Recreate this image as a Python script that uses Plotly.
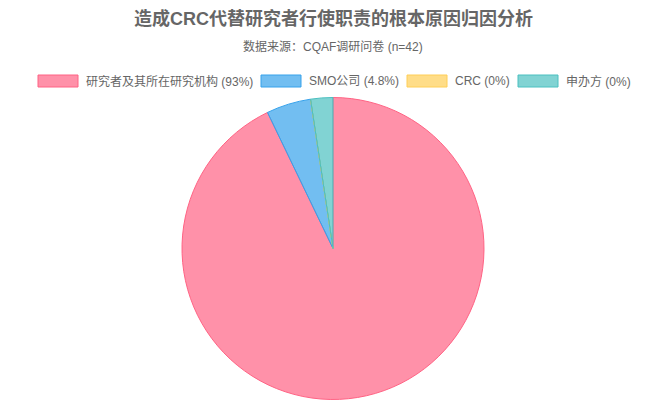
import plotly.graph_objects as go

W, H = 666, 400
labels = ["研究者及其所在研究机构", "SMO公司", "CRC", "申办方"]
values = [39, 2, 0, 1]
legend_texts = ["研究者及其所在研究机构 (93%)", "SMO公司 (4.8%)", "CRC (0%)", "申办方 (0%)"]
fill_colors = ["rgba(255,99,132,0.7)", "rgba(54,162,235,0.7)", "rgba(255,206,86,0.7)", "rgba(75,192,192,0.7)"]
line_colors = ["rgb(255,99,132)", "rgb(54,162,235)", "rgb(255,206,86)", "rgb(75,192,192)"]

FONT = "Liberation Sans, Arial, Noto Sans CJK SC, sans-serif"

cx, cy, r = 333, 248.5, 151

fig = go.Figure(go.Pie(
    labels=labels, values=values, sort=False, direction="clockwise", rotation=0,
    marker=dict(colors=fill_colors, line=dict(color=line_colors, width=1)),
    textinfo="none", hoverinfo="label+value+percent", showlegend=False,
    domain=dict(x=[(cx - r) / W, (cx + r) / W], y=[1 - (cy + r) / H, 1 - (cy - r) / H]),
))

def px(x):
    return x / W

def py(y):
    return 1 - y / H

shapes = []
annotations = [
    dict(text="<b>造成CRC代替研究者行使职责的根本原因归因分析</b>", x=px(333), y=py(19),
         xref="paper", yref="paper", showarrow=False, xanchor="center", yanchor="middle",
         font=dict(size=18, color="#666", family=FONT)),
    dict(text="数据来源：CQAF调研问卷 (n=42)", x=px(333), y=py(47),
         xref="paper", yref="paper", showarrow=False, xanchor="center", yanchor="middle",
         font=dict(size=12, color="#666", family=FONT)),
]
box_x = [38, 261, 407, 518]
for i, t in enumerate(legend_texts):
    x0 = box_x[i]
    shapes.append(dict(type="rect", xref="paper", yref="paper",
                       x0=px(x0), x1=px(x0 + 40), y0=py(87), y1=py(75),
                       fillcolor=fill_colors[i], line=dict(color=line_colors[i], width=1)))
    annotations.append(dict(text=t, x=px(x0 + 46), y=py(81), xref="paper", yref="paper",
                            showarrow=False, xanchor="left", yanchor="middle",
                            font=dict(size=12, color="#666", family=FONT)))

fig.update_layout(
    width=W, height=H, margin=dict(l=0, r=0, t=0, b=0),
    paper_bgcolor="white", plot_bgcolor="white",
    shapes=shapes, annotations=annotations, showlegend=False,
)
fig.write_html("out.html", config={"displayModeBar": False})

with open("out.html", "r", encoding="utf-8") as f:
    html = f.read()
html = html.replace("<body>", '<body style="margin:0;overflow:hidden">', 1)
with open("out.html", "w", encoding="utf-8") as f:
    f.write(html)
